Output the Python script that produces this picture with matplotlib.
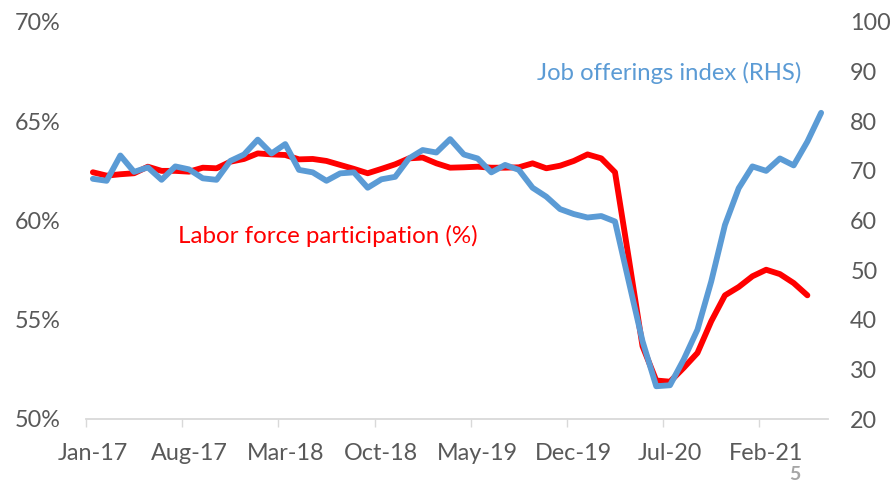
import matplotlib
matplotlib.use("Agg")
import matplotlib.pyplot as plt
import numpy as np

plt.rcParams['font.family'] = ['Lato', 'DejaVu Sans']

# monthly, Jan-17 .. Jun-21
tick_labels = ['Jan-17', 'Aug-17', 'Mar-18', 'Oct-18', 'May-19', 'Dec-19', 'Jul-20', 'Feb-21']
n_months = 54

# labor force participation (%), Jan-17 .. May-21
participation = [
    62.43, 62.26, 62.33, 62.38, 62.71, 62.50, 62.50, 62.46, 62.66, 62.63,
    62.96, 63.10, 63.38, 63.33, 63.30, 63.08, 63.10, 63.00, 62.80, 62.60,
    62.38, 62.60, 62.83, 63.13, 63.17, 62.88, 62.66, 62.68, 62.71, 62.66,
    62.66, 62.68, 62.88, 62.63, 62.76, 63.00, 63.33, 63.13, 62.43, 58.10,
    53.67, 51.94, 51.88, 52.58, 53.33, 54.92, 56.23, 56.65, 57.19, 57.52,
    57.30, 56.85, 56.23,
]

# job offerings index (RHS), Jan-17 .. Jun-21
job_index = [
    68.4, 68.0, 73.1, 69.8, 70.7, 68.2, 70.9, 70.3, 68.5, 68.2,
    72.0, 73.3, 76.3, 73.5, 75.4, 70.2, 69.7, 68.0, 69.5, 69.7,
    66.6, 68.3, 68.8, 72.5, 74.2, 73.7, 76.4, 73.3, 72.5, 69.7,
    71.2, 70.2, 66.6, 64.8, 62.3, 61.3, 60.6, 60.9, 59.8, 47.7,
    35.7, 26.6, 26.8, 32.0, 38.0, 47.7, 59.1, 66.5, 70.9, 70.0,
    72.5, 71.1, 75.9, 81.7,
]

red = '#FF0000'
blue = '#5B9BD5'
grey = '#595959'

fig = plt.figure(figsize=(8.94, 4.84), dpi=100)
ax = fig.add_axes([86 / 894, 1 - 419 / 484, (828 - 86) / 894, (419 - 22) / 484])
ax2 = ax.twinx()

ax.plot(np.arange(len(participation)), participation, color=red, lw=4.2,
        solid_joinstyle='round', solid_capstyle='round')
ax2.plot(np.arange(len(job_index)), job_index, color=blue, lw=4.2,
         solid_joinstyle='round', solid_capstyle='round')

ax.set_xlim(-0.5, n_months - 0.5)
ax.set_ylim(50, 70)
ax2.set_ylim(20, 100)

ax.set_yticks(np.arange(50, 71, 5))
ax.set_yticklabels([f'{v}%' for v in range(50, 71, 5)])
ax2.set_yticks(np.arange(20, 101, 10))

# tick marks between categories, labels on the category
label_pos = np.arange(0, n_months, 7)
ax.set_xticks(label_pos - 0.5)
ax.set_xticklabels([])
ax.set_xticks(label_pos, minor=True)
ax.set_xticklabels(tick_labels, minor=True)
ax.tick_params(axis='x', which='major', length=6, width=1, color='#D9D9D9', direction='out')
ax.tick_params(axis='x', which='minor', length=0, pad=17, labelsize=16.8, labelcolor=grey)

ax.tick_params(axis='y', length=0, pad=18, labelsize=16.8, labelcolor=grey)
ax2.tick_params(axis='y', length=0, pad=16, labelsize=16.8, labelcolor=grey)

for a in (ax, ax2):
    for s in ('top', 'left', 'right'):
        a.spines[s].set_visible(False)
ax.spines['bottom'].set_color('#D9D9D9')
ax.spines['bottom'].set_linewidth(1.3)
ax2.spines['bottom'].set_visible(False)

fig.text(537 / 894, 1 - 73 / 484, 'Job offerings index (RHS)', color=blue,
         fontsize=17.2, ha='left', va='center')
fig.text(178 / 894, 1 - 236 / 484, 'Labor force participation (%)', color=red,
         fontsize=17.4, ha='left', va='center')
fig.text(795 / 894, 1 - 475 / 484, '5', color='#A6A6A6', fontsize=14,
         fontweight='bold', ha='center', va='center')

fig.savefig('out.png', dpi=100)
